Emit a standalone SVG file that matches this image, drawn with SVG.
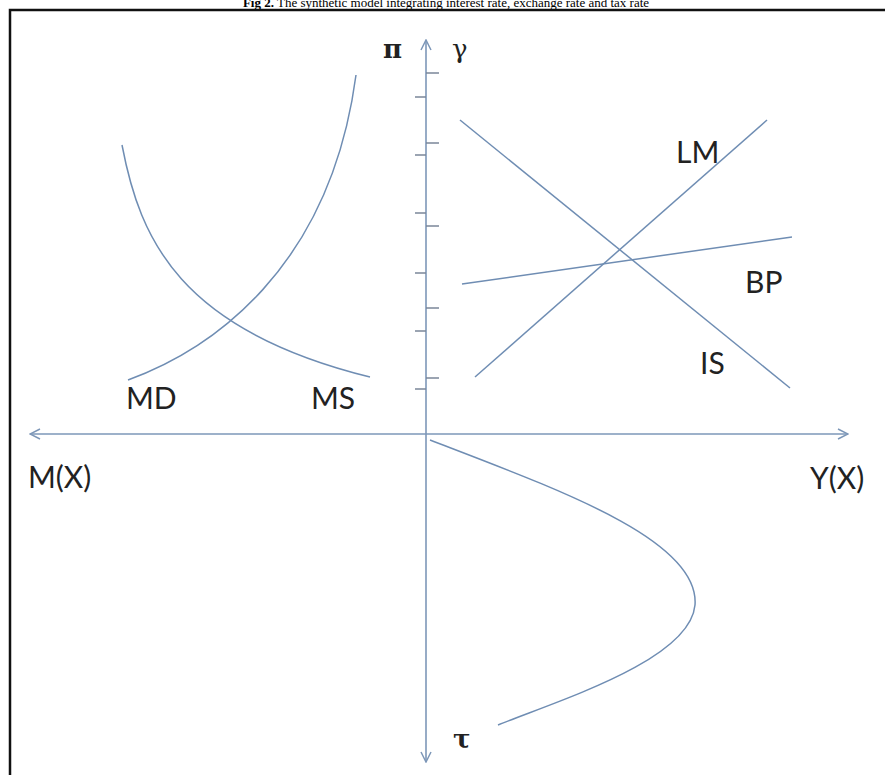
<svg xmlns="http://www.w3.org/2000/svg" width="885" height="775" viewBox="0 0 885 775">
<style>
.ax{stroke:#7d97b8;stroke-width:1.6;fill:none}
.cv{stroke:#6f8db3;stroke-width:1.5;fill:none}
.tk{stroke:#7a8698;stroke-width:1.5}
.lb{font-family:Lato,"Open Sans",sans-serif;font-size:30px;fill:#222}
.gk{font-family:"DejaVu Serif",serif;font-size:26px;font-weight:bold;fill:#222}
.gn{font-family:"DejaVu Serif",serif;font-size:26px;font-weight:normal;fill:#222}
.ttl{font-family:"Liberation Serif",serif;font-size:13px;fill:#000}
</style>
<defs>
<marker id="arr" viewBox="0 0 12 12" refX="11" refY="6" markerWidth="12" markerHeight="12" markerUnits="userSpaceOnUse" orient="auto">
<path d="M1,1 L11,6 L1,11" fill="none" stroke="#7d97b8" stroke-width="1.5"/>
</marker>
</defs>
<rect width="885" height="775" fill="#fff"/>
<text class="ttl" x="446" y="7" text-anchor="middle"><tspan font-weight="bold">Fig 2.</tspan> The synthetic model integrating interest rate, exchange rate and tax rate</text>
<path d="M10,775 V10 H885" fill="none" stroke="#111" stroke-width="2.5"/>
<g id="connectors">
<line class="ax" x1="426" y1="434" x2="30" y2="434" marker-end="url(#arr)"/>
<line class="ax" x1="426" y1="434" x2="848" y2="434" marker-end="url(#arr)"/>
<line class="ax" x1="426" y1="434" x2="426" y2="40" marker-end="url(#arr)"/>
<line class="ax" x1="426" y1="434" x2="426" y2="762" marker-end="url(#arr)"/>
<g id="ticks">
<line class="tk" x1="426" y1="73" x2="439" y2="73"/>
<line class="tk" x1="426" y1="143" x2="439" y2="143"/>
<line class="tk" x1="426" y1="226" x2="439" y2="226"/>
<line class="tk" x1="426" y1="308" x2="439" y2="308"/>
<line class="tk" x1="426" y1="378" x2="439" y2="378"/>
<line class="tk" x1="415" y1="97" x2="426" y2="97"/>
<line class="tk" x1="415" y1="155" x2="426" y2="155"/>
<line class="tk" x1="415" y1="213" x2="426" y2="213"/>
<line class="tk" x1="415" y1="273" x2="426" y2="273"/>
<line class="tk" x1="415" y1="331" x2="426" y2="331"/>
<line class="tk" x1="415" y1="389" x2="426" y2="389"/>
</g>
</g>
<g id="MD">
<path class="cv" d="M128,380 C210,350 330,270 356,75"/>
<text class="lb" x="126" y="409">MD</text>
</g>
<g id="MS">
<path class="cv" d="M122,145 C140,240 180,330 370,377"/>
<text class="lb" x="311" y="409">MS</text>
</g>
<g id="LM">
<line class="cv" x1="475" y1="377" x2="767" y2="120"/>
<text class="lb" x="676" y="163">LM</text>
</g>
<g id="IS">
<line class="cv" x1="460" y1="120" x2="790" y2="388"/>
<text class="lb" x="700" y="374">IS</text>
</g>
<g id="BP">
<line class="cv" x1="462" y1="284" x2="792" y2="237"/>
<text class="lb" x="745" y="293">BP</text>
</g>
<g id="tax">
<path class="cv" d="M430,440 C560,490 700,540 695,605 C690,660 560,700 498,725"/>
</g>
<g id="labels">
<text class="gk" x="383" y="58">π</text>
<text class="gn" x="452" y="58">γ</text>
<text class="gk" x="453" y="748">τ</text>
<text class="lb" x="28" y="488">M(X)</text>
<text class="lb" x="810" y="489">Y(X)</text>
</g>
</svg>
